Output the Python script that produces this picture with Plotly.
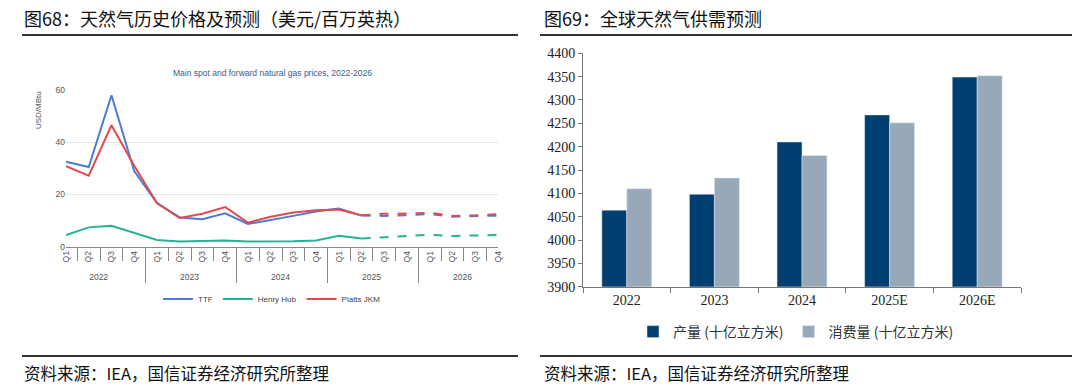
import plotly.graph_objects as go

# ---------------- Left chart data ----------------
year_labels = ["2022"] * 4 + ["2023"] * 4 + ["2024"] * 4 + ["2025"] * 4 + ["2026"] * 4
quarter_labels = ["Q1", "Q2", "Q3", "Q4"] * 5
ttf = [32.5, 30.5, 58.0, 29.0, 16.7, 11.2, 10.5, 12.8, 8.7, 10.2, 11.8, 13.5,
       14.6, 11.9, 11.8, 12.0, 12.5, 11.5, 11.6, 11.9]
henry_hub = [4.5, 7.4, 8.0, 5.4, 2.6, 2.0, 2.3, 2.4, 2.0, 2.0, 2.1, 2.4,
             4.2, 3.1, 3.6, 4.1, 4.6, 4.1, 4.3, 4.5]
platts_jkm = [30.8, 27.2, 46.5, 31.0, 16.7, 11.0, 12.6, 15.2, 9.2, 11.5, 13.1, 14.0,
              14.2, 12.0, 12.6, 12.7, 13.0, 11.8, 12.0, 12.5]
forecast_start = 13  # index of 2025 Q2, where the dashed forward curve starts

# ---------------- Right chart data ----------------
years2 = ["2022", "2023", "2024", "2025E", "2026E"]
production = [4064, 4098, 4210, 4268, 4349]
consumption = [4110, 4133, 4181, 4251, 4352]

W, H = 1080, 386


def py(px):
    return 1 - px / H


def pxx(px):
    return px / W


fig = go.Figure()

x_mc = [year_labels, quarter_labels]
series = [("TTF", ttf, "#4a7bd6"), ("Henry Hub", henry_hub, "#24b394"), ("Platts JKM", platts_jkm, "#e24a4f")]
for name, vals, col in series:
    solid = [v if i <= forecast_start else None for i, v in enumerate(vals)]
    dashed = [v if i >= forecast_start else None for i, v in enumerate(vals)]
    fig.add_trace(go.Scatter(x=x_mc, y=solid, mode="lines", name=name,
                             line=dict(color=col, width=2), xaxis="x", yaxis="y",
                             legend="legend", connectgaps=False))
    fig.add_trace(go.Scatter(x=x_mc, y=dashed, mode="lines", name=name, showlegend=False,
                             line=dict(color=col, width=2, dash="dash"), xaxis="x", yaxis="y",
                             connectgaps=False))

fig.add_trace(go.Bar(x=years2, y=production, name="产量 (十亿立方米)", marker_color="#003f72",
                     xaxis="x2", yaxis="y2", legend="legend2"))
fig.add_trace(go.Bar(x=years2, y=consumption, name="消费量 (十亿立方米)", marker_color="#97a8b8",
                     xaxis="x2", yaxis="y2", legend="legend2"))

sans = "Liberation Sans, Arial, sans-serif"
cjk = "Noto Sans CJK SC, sans-serif"
serif = "Liberation Serif, Times New Roman, serif"

fig.update_layout(
    width=W, height=H,
    margin=dict(l=0, r=0, t=0, b=0),
    paper_bgcolor="white", plot_bgcolor="white",
    bargap=0.43, bargroupgap=0,
    xaxis=dict(domain=[pxx(66), pxx(498)], anchor="y", type="multicategory", automargin=False,
               showline=True, linecolor="#888", linewidth=1,
               ticks="outside", ticklen=13, tickcolor="#888", tickangle=-90,
               tickfont=dict(family=sans, size=8.5, color="#555"),
               showdividers=True, dividercolor="#888", dividerwidth=1,
               showgrid=False, zeroline=False),
    yaxis=dict(domain=[py(246.7), py(90)], anchor="x", range=[0, 60], dtick=20, automargin=False,
               showgrid=True, gridcolor="#e6e6e6", gridwidth=1, zeroline=False,
               showline=False, ticks="", tickfont=dict(family=sans, size=8.5, color="#555")),
    xaxis2=dict(domain=[pxx(583), pxx(1021)], anchor="y2", type="category", automargin=False,
                showline=True, linecolor="#777", linewidth=1,
                ticks="outside", tickson="boundaries", ticklen=5, tickcolor="#777",
                tickfont=dict(family=serif, size=14, color="#222"), showgrid=False),
    yaxis2=dict(domain=[py(286.7), py(53.3)], anchor="x2", range=[3900, 4400], dtick=50,
                automargin=False,
                showline=True, linecolor="#777", linewidth=1, ticks="outside", ticklen=4,
                tickcolor="#777", showgrid=False, zeroline=False,
                tickfont=dict(family=serif, size=14, color="#222")),
    legend=dict(orientation="h", x=pxx(272), y=py(299), xanchor="center", yanchor="middle",
                font=dict(family=sans, size=8, color="#444"), itemwidth=30,
                bgcolor="rgba(0,0,0,0)"),
    legend2=dict(orientation="h", x=pxx(796), y=py(332), xanchor="center", yanchor="middle",
                 font=dict(family=cjk, size=14, color="#333"), bgcolor="rgba(0,0,0,0)",
                 itemwidth=30),
    showlegend=True,
)

annotations = [
    dict(text="图68：天然气历史价格及预测（美元/百万英热）", x=pxx(22), y=py(18), xanchor="left",
         yanchor="middle", font=dict(family=cjk, size=18, color="#111")),
    dict(text="图69：全球天然气供需预测", x=pxx(542), y=py(18), xanchor="left",
         yanchor="middle", font=dict(family=cjk, size=18, color="#111")),
    dict(text="资料来源：IEA，国信证券经济研究所整理", x=pxx(22), y=py(373), xanchor="left",
         yanchor="middle", font=dict(family=cjk, size=16.5, color="#111")),
    dict(text="资料来源：IEA，国信证券经济研究所整理", x=pxx(542), y=py(373), xanchor="left",
         yanchor="middle", font=dict(family=cjk, size=16.5, color="#111")),
    dict(text="Main spot and forward natural gas prices, 2022-2026", x=pxx(272), y=py(73),
         xanchor="center", yanchor="middle", font=dict(family=sans, size=8.5, color="#3d5a8c")),
    dict(text="USD/MBtu", x=pxx(38), y=py(110), xanchor="center", yanchor="middle", textangle=-90,
         font=dict(family=sans, size=8, color="#555")),
]
for a in annotations:
    a.update(xref="paper", yref="paper", showarrow=False)
fig.update_layout(annotations=annotations)

shapes = []
for x0, x1 in [(22, 518), (540, 1072)]:
    shapes.append(dict(type="line", xref="paper", yref="paper", x0=pxx(x0), x1=pxx(x1),
                       y0=py(35), y1=py(35), line=dict(color="#333", width=2)))
    shapes.append(dict(type="line", xref="paper", yref="paper", x0=pxx(x0), x1=pxx(x1),
                       y0=py(356), y1=py(356), line=dict(color="#333", width=2)))
fig.update_layout(shapes=shapes)

fig.write_html("out.html", config={"displayModeBar": False},
               post_script="document.body.style.margin='0';document.body.style.overflow='hidden';")
